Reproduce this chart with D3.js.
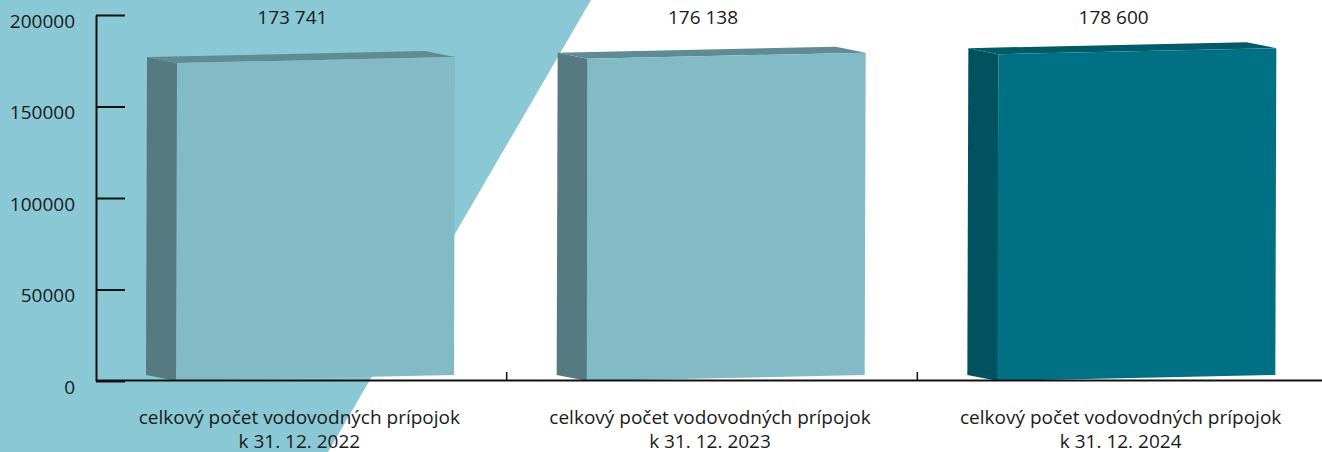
<!DOCTYPE html>
<html>
<head>
<meta charset="utf-8">
<script src="https://cdn.jsdelivr.net/npm/d3@7"></script>
<style>
  body { margin: 0; background: #fff; }
  svg { display: block; font-family: "Open Sans", sans-serif; }
</style>
</head>
<body>
<div id="chart"></div>
<script>
// data
const categories = ["2022", "2023", "2024"];
const labelLines = [
    ["celkový počet vodovodných prípojok", "k 31. 12. 2022"],
    ["celkový počet vodovodných prípojok", "k 31. 12. 2023"],
    ["celkový počet vodovodných prípojok", "k 31. 12. 2024"]
];
const values = [173741, 176138, 178600];
const yTicks = [0, 50000, 100000, 150000, 200000];

const width = 1322, height = 452;
const faceColors = ["#82bac6", "#82bac6", "#007184"];
const sideColors = ["#557a82", "#557a82", "#00525f"];
const topColors = ["#5f8c94", "#5f8c94", "#005a68"];

const svg = d3.select("#chart").append("svg")
    .attr("width", width)
    .attr("height", height);

// light blue background shape
svg.append("path")
    .attr("d", "M0,0 L591,0 L328,452 L0,452 Z")
    .attr("fill", "#89c8d4");

const x = d3.scaleBand()
    .domain(categories)
    .range([96, 1328]);

const y = d3.scaleLinear()
    .domain([0, 200000])
    .range([381, 15]);

const fmt = v => d3.format(",")(v).replace(/,/g, " ");

// 3d boxes
const depthX = -30, depthY = -6, skew = 6;
const frontOff = 81, frontW = 278;

const bars = svg.append("g")
    .selectAll("g")
    .data(values)
    .join("g");

bars.append("path")   // left side
    .attr("fill", (d, i) => sideColors[i])
    .attr("d", (d, i) => {
        const fx = x(categories[i]) + frontOff;
        return `M${fx},${y(0)} L${fx},${y(d)} L${fx + depthX},${y(d) + depthY} L${fx + depthX - 1},${y(0) + depthY} Z`;
    });

bars.append("path")   // top
    .attr("fill", (d, i) => topColors[i])
    .attr("d", (d, i) => {
        const fx = x(categories[i]) + frontOff;
        return `M${fx},${y(d)} L${fx + frontW},${y(d) - skew} L${fx + frontW + depthX},${y(d) - skew + depthY} L${fx + depthX},${y(d) + depthY} Z`;
    });

bars.append("path")   // front
    .attr("fill", (d, i) => faceColors[i])
    .attr("d", (d, i) => {
        const fx = x(categories[i]) + frontOff;
        return `M${fx - 1},${y(0)} L${fx},${y(d)} L${fx + frontW},${y(d) - skew} L${fx + frontW - 1},${y(0) - skew} Z`;
    });

// value labels
svg.append("g")
    .selectAll("text")
    .data(values)
    .join("text")
    .attr("x", (d, i) => x(categories[i]) + x.bandwidth() / 2 - 9)
    .attr("y", 24)
    .attr("text-anchor", "middle")
    .attr("font-size", 19)
    .attr("fill", "#1a1a1a")
    .text(d => fmt(d));

// y axis
const yAxis = d3.axisLeft(y)
    .tickValues(yTicks)
    .tickFormat(d3.format("d"))
    .tickSizeInner(-29)
    .tickSizeOuter(0)
    .tickPadding(21);

const gy = svg.append("g")
    .attr("transform", "translate(96,0)")
    .call(yAxis);
gy.select(".domain").attr("stroke", "#111").attr("stroke-width", 2);
gy.selectAll(".tick line").attr("stroke", "#111").attr("stroke-width", 2);
gy.selectAll(".tick text")
    .attr("font-family", "Open Sans, sans-serif")
    .attr("font-size", 19)
    .attr("fill", "#1a1a1a")
    .attr("dy", "0.65em");

// x axis
const gx = svg.append("g");
gx.append("line")
    .attr("x1", x.range()[0]).attr("x2", width)
    .attr("y1", y(0) - 0.5).attr("y2", y(0) - 0.5)
    .attr("stroke", "#111").attr("stroke-width", 2);
gx.selectAll(".xt")
    .data(categories.slice(1))
    .join("line")
    .attr("class", "xt")
    .attr("x1", d => x(d)).attr("x2", d => x(d))
    .attr("y1", y(0) - 9).attr("y2", y(0))
    .attr("stroke", "#111").attr("stroke-width", 1.5);

// category labels
const cl = svg.append("g")
    .selectAll("text")
    .data(categories)
    .join("text")
    .attr("x", d => x(d) + x.bandwidth() / 2 - 2)
    .attr("y", 424)
    .attr("text-anchor", "middle")
    .attr("font-size", 19)
    .attr("fill", "#1a1a1a");

cl.selectAll("tspan")
    .data((d, i) => labelLines[i])
    .join("tspan")
    .attr("x", function () { return this.parentNode.getAttribute("x"); })
    .attr("dy", (d, i) => i === 0 ? 0 : 24)
    .text(d => d);
</script>
</body>
</html>
